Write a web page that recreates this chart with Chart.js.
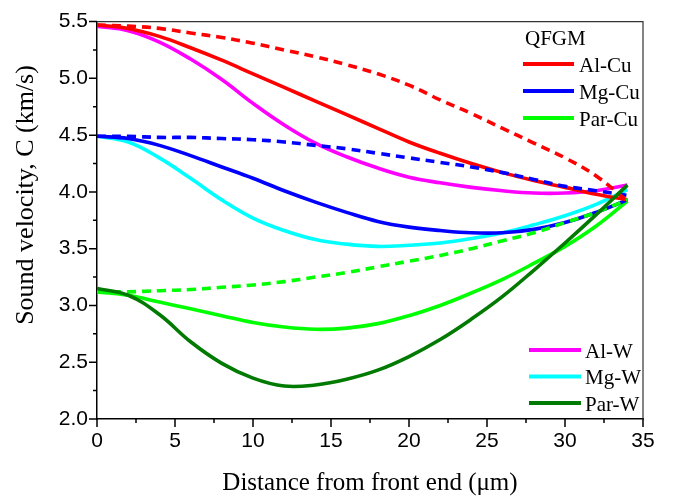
<!DOCTYPE html>
<html><head><meta charset="utf-8">
<script src="https://cdn.jsdelivr.net/npm/chart.js@4.4.1/dist/chart.umd.min.js"></script>
<style>html,body{margin:0;padding:0;background:#fff}canvas{display:block}</style>
</head><body>
<canvas id="c" width="675" height="498"></canvas>
<script>
// ---- data ----
const xValues = [0,2,4,6,8,10,12,14,16,18,20,22,24,26,28,30,32,34];
const alCuQFGM = [5.47,5.44,5.37,5.27,5.16,5.04,4.92,4.80,4.68,4.56,4.44,4.34,4.25,4.17,4.10,4.04,3.98,3.93];
const alCuDash = [5.47,5.46,5.44,5.40,5.36,5.31,5.25,5.19,5.12,5.04,4.94,4.81,4.69,4.56,4.43,4.30,4.14,3.92];
const mgCuQFGM = [4.49,4.47,4.41,4.32,4.22,4.12,4.01,3.91,3.82,3.74,3.69,3.66,3.64,3.64,3.67,3.73,3.82,3.93];
const mgCuDash = [4.49,4.49,4.48,4.48,4.47,4.46,4.44,4.41,4.38,4.34,4.30,4.26,4.22,4.17,4.11,4.05,4.01,3.97];
const parCuQFGM = [3.12,3.09,3.03,2.97,2.91,2.85,2.81,2.79,2.80,2.84,2.91,3.00,3.11,3.23,3.37,3.52,3.70,3.92];
const parCuDash = [3.12,3.12,3.13,3.14,3.16,3.18,3.21,3.25,3.29,3.34,3.39,3.44,3.50,3.57,3.64,3.73,3.82,3.93];
const alW = [5.46,5.42,5.32,5.17,4.99,4.78,4.59,4.43,4.31,4.21,4.13,4.08,4.04,4.01,3.99,3.99,4.01,4.06];
const mgW = [4.49,4.44,4.30,4.12,3.93,3.77,3.66,3.58,3.54,3.52,3.53,3.55,3.59,3.64,3.71,3.79,3.89,4.02];
const parW = [3.15,3.09,2.92,2.68,2.49,2.36,2.29,2.30,2.35,2.43,2.55,2.70,2.88,3.08,3.31,3.55,3.80,4.06];

const xTickValues = [0,5,10,15,20,25,30,35];
const xTickLabels = ['0','5','10','15','20','25','30','35'];
const xMinorTicks = [2.5,7.5,12.5,17.5,22.5,27.5,32.5];
const yTickValues = [2.0,2.5,3.0,3.5,4.0,4.5,5.0,5.5];
const yTickLabels = ['2.0','2.5','3.0','3.5','4.0','4.5','5.0','5.5'];
const yMinorTicks = [2.25,2.75,3.25,3.75,4.25,4.75,5.25];

const legendTitle = 'QFGM';
const legendTop = ['Al-Cu','Mg-Cu','Par-Cu'];
const legendBottom = ['Al-W','Mg-W','Par-W'];
const xTitle = 'Distance from front end (\u03bcm)';
const yTitle = 'Sound velocity, C (km/s)';

const RED='#FF0000', BLUE='#0000FF', LIME='#00FF00', MAG='#FF00FF', CYAN='#00FFFF', DKG='#007A00';

function pts(arr){ return arr.map((v,i)=>({x:xValues[i], y:v})); }
function ds(label, arr, color, dashed){
  return {label, data: pts(arr), borderColor: color, backgroundColor: color,
    borderWidth: 3.6, borderDash: dashed ? [9,6] : [], pointRadius: 0,
    tension: 0.4, fill: false};
}

const datasets = [
  ds('Par-W', parW, DKG, false),
  ds('Al-Cu (dashed)', alCuDash, RED, true),
  ds('Mg-Cu (dashed)', mgCuDash, BLUE, true),
  ds('Par-Cu (dashed)', parCuDash, LIME, true),
  ds('Al-Cu', alCuQFGM, RED, false),
  ds('Mg-Cu', mgCuQFGM, BLUE, false),
  ds('Par-Cu', parCuQFGM, LIME, false),
  ds('Al-W', alW, MAG, false),
  ds('Mg-W', mgW, CYAN, false),
];

const decor = {
  id: 'decor',
  afterDraw(chart){
    const ctx = chart.ctx, a = chart.chartArea, xs = chart.scales.x, ys = chart.scales.y;
    ctx.save();
    ctx.strokeStyle = '#333'; ctx.lineWidth = 1.2;
    ctx.beginPath(); ctx.moveTo(a.left, a.top); ctx.lineTo(a.right, a.top); ctx.lineTo(a.right, a.bottom); ctx.stroke();
    ctx.strokeStyle = '#000'; ctx.lineWidth = 1.5;
    ctx.beginPath();
    xTickValues.forEach(v=>{const p=xs.getPixelForValue(v); ctx.moveTo(p,a.bottom); ctx.lineTo(p,a.bottom+8);});
    xMinorTicks.forEach(v=>{const p=xs.getPixelForValue(v); ctx.moveTo(p,a.bottom); ctx.lineTo(p,a.bottom+4);});
    yTickValues.forEach(v=>{const p=ys.getPixelForValue(v); ctx.moveTo(a.left-8,p); ctx.lineTo(a.left,p);});
    yMinorTicks.forEach(v=>{const p=ys.getPixelForValue(v); ctx.moveTo(a.left-4,p); ctx.lineTo(a.left,p);});
    ctx.stroke();
    ctx.fillStyle = '#000';
    ctx.font = '26px "Liberation Serif", "Times New Roman", serif';
    ctx.textAlign = 'center'; ctx.textBaseline = 'middle';
    ctx.save(); ctx.translate(26, 195); ctx.rotate(-Math.PI/2); ctx.fillText(yTitle, 0, 0); ctx.restore();
    ctx.font = '21px "Liberation Serif", "Times New Roman", serif';
    ctx.textAlign = 'left'; ctx.textBaseline = 'alphabetic';
    ctx.fillText(legendTitle, 525, 45);
    const topCols = [RED, BLUE, LIME], botCols = [MAG, CYAN, DKG];
    ctx.lineWidth = 4;
    legendTop.forEach((t,i)=>{
      const y = 64 + i*27;
      ctx.strokeStyle = topCols[i]; ctx.beginPath(); ctx.moveTo(523,y); ctx.lineTo(574,y); ctx.stroke();
      ctx.fillText(t, 579, y+7.5);
    });
    legendBottom.forEach((t,i)=>{
      const y = 350 + i*26.5;
      ctx.strokeStyle = botCols[i]; ctx.beginPath(); ctx.moveTo(529,y); ctx.lineTo(581,y); ctx.stroke();
      ctx.fillText(t, 585, y+7.5);
    });
    ctx.restore();
  }
};

new Chart(document.getElementById('c'), {
  type: 'line',
  data: { datasets },
  options: {
    responsive: false, animation: false, devicePixelRatio: 1,
    layout: { padding: { left: 0, right: 32, top: 16, bottom: 0 } },
    plugins: { legend: { display: false }, tooltip: { enabled: false } },
    scales: {
      x: {
        type: 'linear', min: 0, max: 35,
        afterBuildTicks: s => { s.ticks = xTickValues.map(v=>({value:v})); },
        afterFit: s => { s.height = 79; },
        grid: { display: false, drawTicks: false },
        border: { display: true, color: '#000', width: 1.5 },
        ticks: { color: '#000', padding: 10, maxRotation: 0, autoSkip: false,
          font: { family: '"Liberation Sans", Arial, sans-serif', size: 21 },
          callback: (v, i) => xTickLabels[i] },
        title: { display: true, text: xTitle, color: '#000', padding: { top: 0, bottom: 0 },
          font: { family: '"Liberation Serif", "Times New Roman", serif', size: 25 } }
      },
      y: {
        type: 'linear', min: 2.0, max: 5.5,
        afterBuildTicks: s => { s.ticks = yTickValues.map(v=>({value:v})); },
        afterFit: s => { s.width = 97; },
        grid: { display: false, drawTicks: false },
        border: { display: true, color: '#000', width: 1.5 },
        ticks: { color: '#000', padding: 9, autoSkip: false,
          font: { family: '"Liberation Sans", Arial, sans-serif', size: 21 },
          callback: (v, i) => yTickLabels[i] }
      }
    }
  },
  plugins: [decor]
});
</script>
</body></html>
